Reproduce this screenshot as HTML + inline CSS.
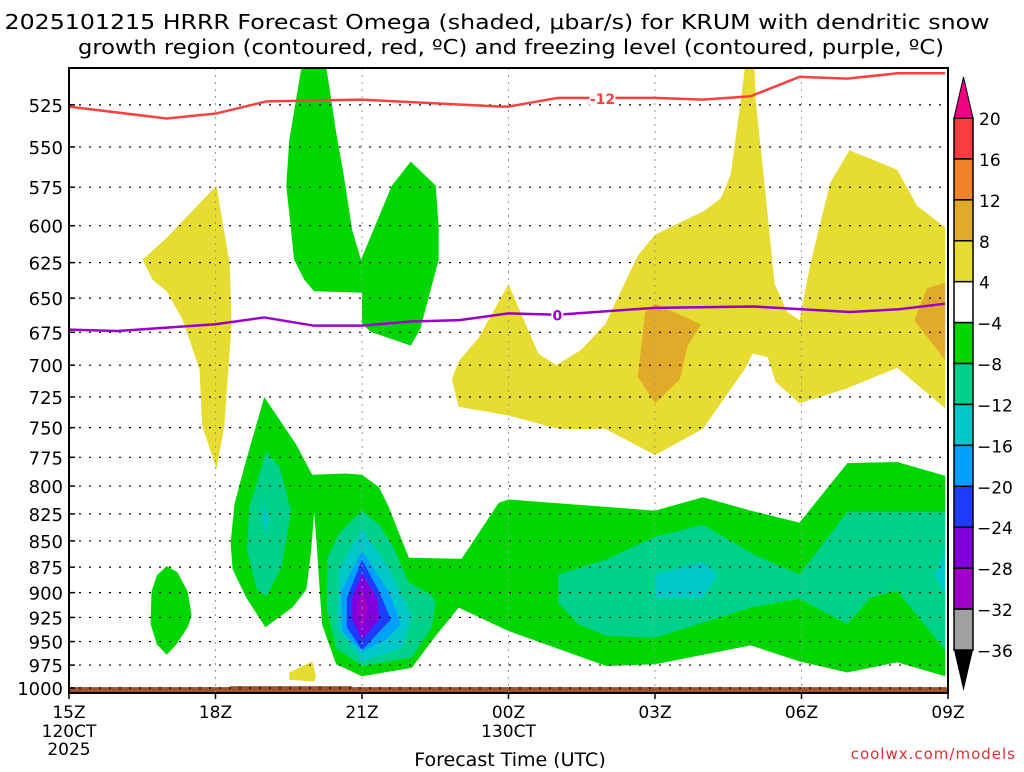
<!DOCTYPE html>
<html><head><meta charset="utf-8"><style>
body{margin:0;background:#fff;width:1024px;height:768px;overflow:hidden;font-family:"DejaVu Sans",sans-serif}
svg text{font-family:"DejaVu Sans","Liberation Sans",sans-serif}
</style></head><body>
<svg id="chart" width="1024" height="768" viewBox="0 0 1024 768" xmlns="http://www.w3.org/2000/svg">
<text x="497" y="29" font-size="20" text-anchor="middle" fill="#000" textLength="985" lengthAdjust="spacingAndGlyphs">2025101215 HRRR Forecast Omega (shaded, μbar/s) for KRUM with dendritic snow</text>
<text x="511" y="54" font-size="20" text-anchor="middle" fill="#000" textLength="866" lengthAdjust="spacingAndGlyphs">growth region (contoured, red, ºC) and freezing level (contoured, purple, ºC)</text>
<g id="shade"></g><g id="grid"></g><g id="lines"></g><g id="axes"></g><g id="cbar"></g>
<text x="510" y="766" font-size="19" text-anchor="middle">Forecast Time (UTC)</text>
<text x="1016" y="759" font-size="15" text-anchor="end" fill="#e03030" letter-spacing="1">coolwx.com/models</text>
</svg>
<script>
const levels=[525,550,575,600,625,650,675,700,725,750,775,800,825,850,875,900,925,950,975,1000];
const xTickHours=[0,3,6,9,12,15,18];
const xTickLabels=["15Z","18Z","21Z","00Z","03Z","06Z","09Z"];
const cbarBounds=[20,16,12,8,4,-4,-8,-12,-16,-20,-24,-28,-32,-36];
const cbarColors=["#fa3c3c","#f08228","#e1aa28","#e6dc32","#ffffff","#00d700","#00d28c","#00c8c8","#00a0ff","#1e3cff","#8200dc","#a000c8","#a0a0a0"];
// shaded regions: [hour since 15Z, pressure hPa]
const Y1=[[1.51,623],[2.0,608],[3.02,574],[3.29,626],[3.33,669],[3.18,749],[3.02,785],[2.73,749],[2.67,703],[2.33,666],[2.0,645],[1.71,637]];
const Y2=[[9.0,640],[9.61,691],[9.98,700],[10.49,688],[10.98,669],[11.65,620],[12.0,606],[13.02,590],[13.35,582],[13.55,567],[13.76,522],[13.84,504],[14.04,504],[14.06,522],[14.24,572],[14.45,640],[14.71,660],[14.96,666],[15.18,626],[15.59,572],[15.98,552],[16.96,564],[17.37,587],[17.94,601],[17.94,734],[16.96,702],[15.94,718],[14.96,730],[14.47,713],[14.31,694],[14.0,691],[13.84,703],[12.98,751],[12.0,773],[10.98,751],[10.02,751],[9.0,740],[7.98,733],[7.84,711],[7.98,697],[8.39,679]];
const O1=[[12.0,654],[12.94,669],[12.67,685],[12.51,711],[12.0,730],[11.65,709],[11.8,660]];
const O2=[[17.94,639],[17.57,643],[17.31,666],[17.94,696]];
const Y3=[[4.51,983],[4.98,971],[5.06,987],[5.02,993],[4.51,991]];
const G1=[[4.76,504],[5.27,504],[5.47,541],[5.63,568],[5.8,603],[5.98,623],[6.61,574],[7.0,559],[7.51,574],[7.57,601],[7.57,623],[7.33,654],[7.2,672],[7.0,685],[6.2,675],[6.0,669],[6.0,646],[5.02,645],[4.82,637],[4.61,623],[4.45,574],[4.51,546]];
const G2=[[2.0,874],[2.22,880],[2.43,899],[2.51,923],[2.43,935],[2.2,953],[2.0,964],[1.8,953],[1.67,932],[1.69,899],[1.8,883]];
const G3=[[4.0,725],[4.65,764],[4.98,790],[5.67,789],[6.0,790],[6.35,801],[6.55,819],[6.76,843],[6.96,866],[8.04,867],[8.8,815],[9.0,812],[12.0,822],[12.98,810],[13.96,822],[14.96,833],[15.94,780],[16.96,779],[17.94,791],[17.94,987],[16.96,972],[15.94,983],[14.96,971],[13.96,954],[12.0,974],[11.0,976],[9.0,939],[7.98,915],[7.51,944],[7.02,978],[6.0,987],[5.47,974],[5.18,932],[5.08,859],[5.02,823],[4.96,859],[4.86,897],[4.57,915],[4.02,935],[3.63,905],[3.35,877],[3.31,852],[3.39,816],[3.63,777]];
const T1=[[4.04,770],[4.31,783],[4.55,823],[4.35,875],[4.04,904],[3.84,896],[3.65,859],[3.69,819]];
const C1=[[4.0,815],[4.08,830],[4.04,845],[3.96,830]];
const T2=[[6.0,822],[6.35,835],[6.61,853],[6.96,890],[7.41,902],[7.51,910],[7.43,935],[7.02,967],[6.0,976],[5.47,957],[5.27,915],[5.29,866],[5.53,843]];
const C2=[[6.0,839],[6.55,877],[7.02,923],[6.82,957],[6.0,971],[5.49,935],[5.53,877]];
const B1=[[6.0,859],[6.55,899],[6.8,932],[6.49,948],[6.0,961],[5.59,939],[5.57,899]];
const B2=[[6.0,868],[6.35,899],[6.59,927],[6.0,959],[5.69,935],[5.69,905]];
const P1=[[6.0,882],[6.31,905],[6.35,927],[6.0,948],[5.8,927],[5.8,905]];
const P2=[[6.0,895],[6.12,915],[6.0,938],[5.9,915]];
const T3=[[10.02,882],[10.98,868],[12.0,846],[12.98,835],[14.04,863],[14.96,882],[15.94,823],[17.94,823],[17.94,959],[16.96,898],[16.41,905],[15.94,932],[14.96,906],[13.96,915],[12.0,946],[11.0,944],[10.43,932],[10.02,910]];
const C3=[[12.0,882],[12.98,870],[13.29,882],[12.98,905],[12.0,905]];
const C4=[[17.94,859],[17.73,882],[17.94,902]];
// contour lines
const redHours=[0,2,3.02,4.04,6,8.86,9,10,10.7,12,12.98,13.96,14.96,15.94,16.96,17.94];
const redPres=[526,533,530,523,522,526,526,521,521,521,522,520,509,510,507,507];
const purHours=[0,1,3,4,5,6,7,8,9,10,12,14,16,17,17.94];
const purPres=[673,674,669,664,670,670,667,666,661,662,657,656,660,658,654];

const NS="http://www.w3.org/2000/svg";
const X0=69,X1=948,PX=(X1-X0)/18;
const xs=h=>X0+h*PX;
const ys=p=>688-905*Math.log(1000/p);
function el(tag,attrs,parent){const e=document.createElementNS(NS,tag);for(const k in attrs)e.setAttribute(k,attrs[k]);parent.appendChild(e);return e;}
const shade=document.getElementById('shade');
const regions=[["yellow-region-1",Y1,"#e6dc32"],["yellow-region-2",Y2,"#e6dc32"],["orange-region-1",O1,"#e1aa28"],["orange-region-2",O2,"#e1aa28"],["yellow-region-3",Y3,"#e6dc32"],["green-region-1",G1,"#00d700"],["green-region-2",G2,"#00d700"],["green-region-3",G3,"#00d700"],["teal-region-1",T1,"#00d28c"],["cyan-region-1",C1,"#00c8c8"],["teal-region-2",T2,"#00d28c"],["cyan-region-2",C2,"#00c8c8"],["lightblue-region",B1,"#00a0ff"],["blue-region",B2,"#1e3cff"],["purple-region",P1,"#8200dc"],["magenta-region",P2,"#a000c8"],["teal-region-3",T3,"#00d28c"],["cyan-region-3",C3,"#00c8c8"],["cyan-region-4",C4,"#00c8c8"]];
regions.forEach(r=>{
  const e=el('polygon',{points:r[1].map(d=>xs(d[0]).toFixed(1)+','+ys(d[1]).toFixed(1)).join(' '),fill:r[2]},shade);
  
  
});
// ground
const gnd=el('rect',{x:X0,y:ys(999),width:X1-X0,height:ys(1005)-ys(999),fill:"#a0522d"},shade);


const gnd2=el('rect',{x:xs(3.3),y:ys(998),width:xs(5.8)-xs(3.3),height:ys(1000)-ys(998),fill:"#a0522d"},shade);


// grid
const grid=document.getElementById('grid');
levels.forEach(p=>{
  const l=el('line',{x1:X0,x2:X1,y1:ys(p),y2:ys(p),stroke:"#000","stroke-width":1.2,"stroke-dasharray":"2,8"},grid);
  
  
});
xTickHours.forEach(h=>{
  const l=el('line',{x1:xs(h),x2:xs(h),y1:68,y2:693,stroke:"#999","stroke-width":1,"stroke-dasharray":"2,5"},grid);
  
  
});
// contour lines
const lines=document.getElementById('lines');
const red=el('polyline',{points:redHours.map((h,i)=>xs(h)+','+ys(redPres[i])).join(' '),fill:"none",stroke:"#fa4040","stroke-width":2.5,"stroke-linejoin":"round"},lines);


const rl=el('rect',{x:xs(10.7)-2,y:ys(521)-8,width:26,height:16,fill:"#fff"},lines);


const rt=el('text',{x:xs(10.7)+11,y:ys(521)+6,"font-size":14,"font-weight":"bold",fill:"#fa4040","text-anchor":"middle"},lines);rt.textContent="-12";


const pur=el('polyline',{points:purHours.map((h,i)=>xs(h)+','+ys(purPres[i])).join(' '),fill:"none",stroke:"#9c00c8","stroke-width":2.5,"stroke-linejoin":"round"},lines);


const pl=el('rect',{x:xs(10)-6,y:ys(662)-8,width:12,height:16,fill:"#fff"},lines);


const pt=el('text',{x:xs(10),y:ys(662)+6,"font-size":14,"font-weight":"bold",fill:"#9c00c8","text-anchor":"middle"},lines);pt.textContent="0";


// axes
const axes=document.getElementById('axes');
const fr=el('rect',{x:X0,y:68,width:X1-X0,height:625,fill:"none",stroke:"#000","stroke-width":2},axes);


levels.forEach(p=>{
  const t=el('text',{x:63,y:ys(p)+7,"font-size":18,"text-anchor":"end"},axes);t.textContent=p;
  
  
  const tk=el('line',{x1:X0,x2:X0+6,y1:ys(p),y2:ys(p),stroke:"#000","stroke-width":1.5},axes);
  
  
});
xTickHours.forEach((h,i)=>{
  const t=el('text',{x:xs(h),y:718,"font-size":17,"text-anchor":"middle"},axes);t.textContent=xTickLabels[i];
  
  
  const tk=el('line',{x1:xs(h),x2:xs(h),y1:693,y2:699,stroke:"#000","stroke-width":1.5},axes);
  
  
});
[["120CT",xs(0),737],["2025",xs(0),755],["130CT",xs(9),737]].forEach(d=>{
  const t=el('text',{x:d[1],y:d[2],"font-size":17,"text-anchor":"middle"},axes);t.textContent=d[0];
  
  
});
// colorbar
const cb=document.getElementById('cbar');
const CX=954,CW=19;
cbarColors.forEach((c,i)=>{
  const y1=118+i*(650-118)/13, y2=118+(i+1)*(650-118)/13;
  const r=el('rect',{x:CX,y:y1,width:CW,height:y2-y1,fill:c,stroke:"#000","stroke-width":1.5},cb);
  
  
});
const tu=el('polygon',{points:`${CX},118 ${CX+CW},118 ${CX+CW/2},77`,fill:"#f00082",stroke:"#000","stroke-width":1},cb);


const td=el('polygon',{points:`${CX},650 ${CX+CW},650 ${CX+CW/2},691`,fill:"#000"},cb);


cbarBounds.forEach((v,i)=>{
  const y=118+i*(650-118)/13;
  const t=el('text',{x:v<0?977:979,y:y+7,"font-size":17},cb);t.textContent=v<0?"\u2212"+(-v):v;
  
  
});
</script>
</body></html>
